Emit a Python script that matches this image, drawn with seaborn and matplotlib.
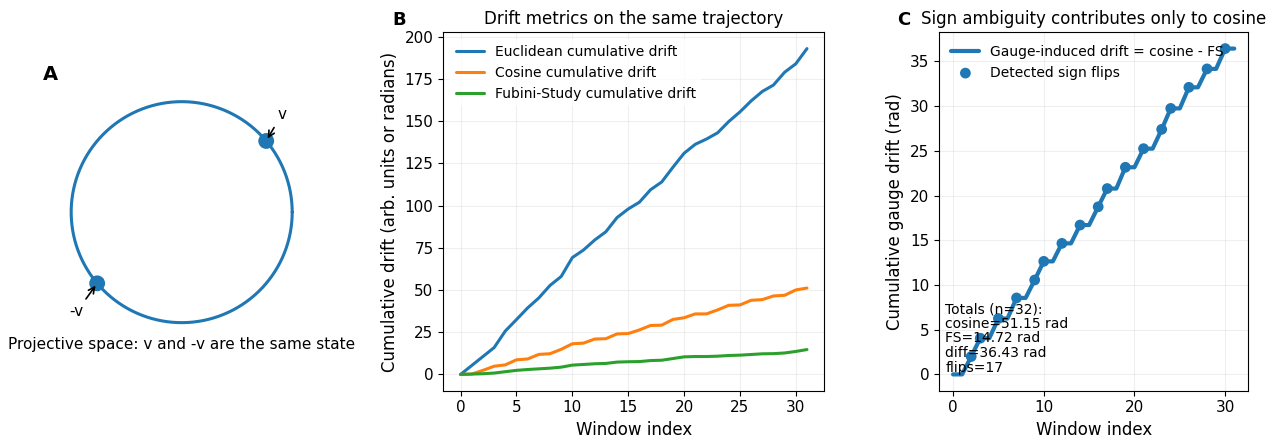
import numpy as np
import pandas as pd
import matplotlib
matplotlib.use("Agg")
import matplotlib.pyplot as plt
import seaborn as sns

# ---- data ----
window = list(range(32))

euclid = [0, 5.3, 10.6, 15.9, 25.7, 32.5, 39.4, 45.3, 52.7, 58.0,
          69.2, 73.7, 79.6, 84.5, 92.9, 98.0, 102.0, 109.4, 114.0, 122.7,
          131.0, 136.3, 139.4, 143.1, 149.8, 155.5, 162.0, 167.6, 171.4, 179.0,
          184.0, 193.0]

cosine = [0, 0.2, 2.4, 4.85, 5.65, 8.65, 9.15, 11.85, 12.25, 14.86,
          18.14, 18.54, 20.95, 21.15, 24.0, 24.2, 26.34, 28.98, 29.18, 32.56,
          33.56, 35.84, 35.84, 38.2, 40.94, 41.14, 43.9, 44.3, 46.46, 46.86,
          50.03, 51.15]

fubini = [0, 0.2, 0.4, 0.8, 1.6, 2.4, 2.9, 3.3, 3.7, 4.3,
          5.5, 5.9, 6.3, 6.5, 7.3, 7.5, 7.6, 8.2, 8.4, 9.4,
          10.4, 10.6, 10.6, 10.8, 11.2, 11.4, 11.8, 12.2, 12.3, 12.7,
          13.6, 14.72]

gauge = [0, 0, 2.0, 4.05, 4.05, 6.25, 6.25, 8.55, 8.55, 10.56,
         12.64, 12.64, 14.65, 14.65, 16.7, 16.7, 18.74, 20.78, 20.78, 23.16,
         23.16, 25.24, 25.24, 27.4, 29.74, 29.74, 32.1, 32.1, 34.16, 34.16,
         36.43, 36.43]

flip_idx = [2, 3, 5, 7, 9, 10, 12, 14, 16, 17, 19, 21, 23, 24, 26, 28, 30]

totals_text = "Totals (n=32):\ncosine=51.15 rad\nFS=14.72 rad\ndiff=36.43 rad\nflips=17"

theta = 0.7  # angle of v on the circle

# ---- figure ----
sns.set_style("ticks")
plt.rcParams["font.family"] = ["DejaVu Sans"]
plt.rcParams.update({"text.color": "black", "axes.labelcolor": "black",
                     "xtick.color": "black", "ytick.color": "black",
                     "axes.edgecolor": "black"})
W, H = 1282, 445
fig = plt.figure(figsize=(W / 100, H / 100), dpi=100)


def px_axes(x0, y0, x1, y1):
    return fig.add_axes([x0 / W, 1 - y1 / H, (x1 - x0) / W, (y1 - y0) / H])


colors = sns.color_palette("tab10")

# Panel A
axA = px_axes(20, 60, 350, 380)
t = np.linspace(0, 2 * np.pi, 400)
sns.lineplot(x=np.cos(t), y=np.sin(t), ax=axA, color=colors[0], lw=2.2,
             sort=False, estimator=None)
vx, vy = np.cos(theta), np.sin(theta)
sns.scatterplot(x=[vx, -vx], y=[vy, -vy], ax=axA, color=colors[0], s=130,
                edgecolor="none", zorder=3)
axA.annotate("v", xy=(vx, vy), xytext=(vx + 0.1, vy + 0.2), fontsize=11,
             arrowprops=dict(arrowstyle="->", color="black", lw=1.2))
axA.annotate("-v", xy=(-vx, -vy), xytext=(-vx - 0.25, -vy - 0.3), fontsize=11,
             arrowprops=dict(arrowstyle="->", color="black", lw=1.2))
axA.text(0, -1.2, "Projective space: v and -v are the same state", ha="center",
         va="center", fontsize=11)
axA.set_xlim(-1.463, 1.523)
axA.set_ylim(-1.519, 1.377)
axA.axis("off")

# Panel B
axB = px_axes(443.3, 32.3, 824.3, 390.7)
dfB = pd.DataFrame({"Window index": window * 3,
                    "value": euclid + cosine + fubini,
                    "metric": ["Euclidean cumulative drift"] * 32
                    + ["Cosine cumulative drift"] * 32
                    + ["Fubini-Study cumulative drift"] * 32})
sns.lineplot(data=dfB, x="Window index", y="value", hue="metric",
             palette=colors[:3], lw=2.2, ax=axB)
axB.set_yticks(range(0, 201, 25))
axB.set_xticks(range(0, 31, 5))
axB.grid(True, alpha=0.3)
axB.set_xlabel("Window index", fontsize=12)
axB.set_ylabel("Cumulative drift (arb. units or radians)", fontsize=12)
axB.set_title("Drift metrics on the same trajectory", fontsize=12)
axB.tick_params(labelsize=11)
axB.legend(title=None, loc="upper left", fontsize=10, frameon=True,
           edgecolor="none", framealpha=0.8)

# Panel C
axC = px_axes(939, 32.3, 1248.3, 390.7)
sns.lineplot(x=window, y=gauge, ax=axC, color=colors[0], lw=3,
             label="Gauge-induced drift = cosine - FS")
sns.scatterplot(x=flip_idx, y=[gauge[i] for i in flip_idx], ax=axC,
                color=colors[0], s=60, edgecolor="none", zorder=3,
                label="Detected sign flips")
axC.set_xticks([0, 10, 20, 30])
axC.set_yticks(range(0, 36, 5))
axC.grid(True, alpha=0.3)
axC.set_xlabel("Window index", fontsize=12)
axC.set_ylabel("Cumulative gauge drift (rad)", fontsize=12)
axC.set_title("Sign ambiguity contributes only to cosine", fontsize=12)
axC.tick_params(labelsize=11)
axC.legend(loc="upper left", fontsize=10, frameon=False)
axC.text(0.02, 0.045, totals_text, transform=axC.transAxes, fontsize=10,
         va="bottom", ha="left", linespacing=1.05)

for ax in (axB, axC):
    for s in ax.spines.values():
        s.set_visible(True)
        s.set_color("black")

# panel letters
fig.text(42.7 / W, 1 - 79.5 / H, "A", fontsize=14, fontweight="bold", va="baseline")
fig.text(392.7 / W, 1 - 25 / H, "B", fontsize=13, fontweight="bold", va="baseline")
fig.text(896.7 / W, 1 - 25 / H, "C", fontsize=13, fontweight="bold", va="baseline")

fig.savefig("out.png", dpi=100)
